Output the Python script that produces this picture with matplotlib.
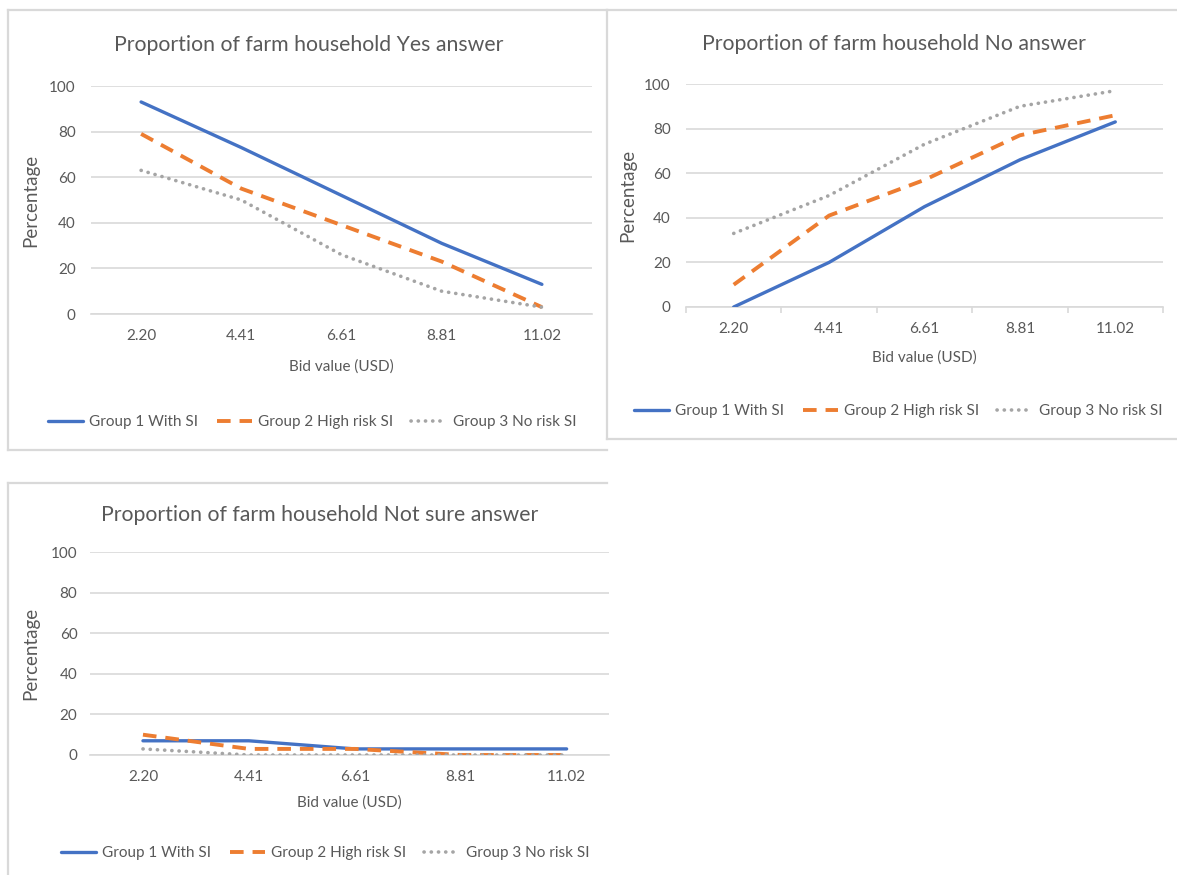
import matplotlib.pyplot as plt
from matplotlib.lines import Line2D

W, H = 1177, 875

bids = ["2.20", "4.41", "6.61", "8.81", "11.02"]
groups = ["Group 1 With SI", "Group 2 High risk SI", "Group 3 No risk SI"]

yes_g1 = [93, 73, 52, 31, 13]
yes_g2 = [79, 55, 39, 23, 3]
yes_g3 = [63, 50, 26, 10, 3]

no_g1 = [0, 20, 45, 66, 83]
no_g2 = [10, 41, 57, 77, 86]
no_g3 = [33, 50, 73, 90, 97]

unsure_g1 = [7, 7, 3, 3, 3]
unsure_g2 = [10, 3, 3, 0, 0]
unsure_g3 = [3, 0, 0, 0, 0]

BLUE, ORANGE, GREY = "#4472C4", "#ED7D31", "#A5A5A5"
TEXT = "#595959"
RULE = "#D9D9D9"

plt.rcParams["font.family"] = ["Lato", "DejaVu Sans"]

fig = plt.figure(figsize=(W / 100, H / 100), dpi=100)
fig.patch.set_facecolor("white")


def fx(x):
    return x / W


def fy(y):
    return 1 - y / H


def frame_line(x0, y0, x1, y1):
    fig.add_artist(Line2D([fx(x0), fx(x1)], [fy(y0), fy(y1)], color=RULE,
                          lw=1.6, transform=fig.transFigure, zorder=0))


def panel(left, right, top, bottom, title, tx, ty, series, xmax=4.5,
          ticks=False, ylab_x=None, xlab_y=None, leg_xy=None, ypad=11):
    ax = fig.add_axes([fx(left), fy(bottom), fx(right - left), (bottom - top) / H])
    x = range(len(bids))
    s1, s2, s3 = series
    ax.plot(x, s1, color=BLUE, lw=2.4, solid_capstyle="round", label=groups[0], zorder=3)
    ax.plot(x, s2, color=ORANGE, lw=2.8, dashes=(3.5, 2.3), dash_capstyle="butt",
            label=groups[1], zorder=3)
    ax.plot(x, s3, color=GREY, lw=2.6, dashes=(0.05, 1.95), dash_capstyle="round",
            label=groups[2], zorder=3)

    ax.set_xlim(-0.5, xmax)
    ax.set_ylim(0, 100)
    ax.set_yticks(range(0, 101, 20))
    ax.set_xticks(list(x))
    ax.set_xticklabels(bids)
    ax.yaxis.grid(True, color=RULE, lw=1.2)
    ax.set_axisbelow(True)
    for side in ["top", "right", "left"]:
        ax.spines[side].set_visible(False)
    ax.spines["bottom"].set_color(RULE)
    ax.spines["bottom"].set_linewidth(1.2)
    ax.tick_params(axis="y", length=0, pad=ypad, labelsize=11, labelcolor=TEXT)
    ax.tick_params(axis="x", length=0, pad=11, labelsize=11, labelcolor=TEXT)
    if ticks:
        ax.set_xticks([i - 0.5 for i in range(len(bids) + 1)], minor=True)
        ax.tick_params(axis="x", which="minor", length=4, width=1.2, color=RULE)

    ax.set_ylabel("Percentage", fontsize=13.5, color=TEXT)
    ax.yaxis.set_label_coords((ylab_x - left) / (right - left), 0.5)
    ax.set_xlabel("Bid value (USD)", fontsize=11, color=TEXT)
    ax.xaxis.label.set_va("center")
    ax.xaxis.set_label_coords(0.5, (bottom - xlab_y) / (bottom - top))

    fig.text(fx(tx), fy(ty), title, ha="center", va="center", fontsize=15.3, color=TEXT)

    ax.legend(loc="center", bbox_to_anchor=(fx(leg_xy[0]), fy(leg_xy[1])),
              bbox_transform=fig.transFigure, ncol=3, frameon=False, fontsize=11,
              labelcolor=TEXT, handlelength=2.3, handletextpad=0.4, columnspacing=1.2)
    return ax


# frames around each chart
frame_line(8, 10, 607, 10)
frame_line(8, 10, 8, 450)
frame_line(8, 450, 607, 450)
frame_line(607, 10, 1177, 10)
frame_line(607, 10, 607, 439)
frame_line(607, 439, 1177, 439)
frame_line(8, 483, 607, 483)
frame_line(8, 483, 8, 875)

panel(91, 592, 86, 314, "Proportion of farm household Yes answer", 309, 45,
      (yes_g1, yes_g2, yes_g3), ylab_x=39, xlab_y=367, leg_xy=(312, 422))
panel(686, 1163, 84, 307, "Proportion of farm household No answer", 894, 44,
      (no_g1, no_g2, no_g3), ticks=True, ylab_x=636, xlab_y=358, leg_xy=(898, 411))
panel(90, 609, 552, 755, "Proportion of farm household Not sure answer", 320, 515,
      (unsure_g1, unsure_g2, unsure_g3), xmax=4.4, ylab_x=39, xlab_y=803,
      leg_xy=(325, 853), ypad=9)

fig.savefig("out.png", dpi=100)
